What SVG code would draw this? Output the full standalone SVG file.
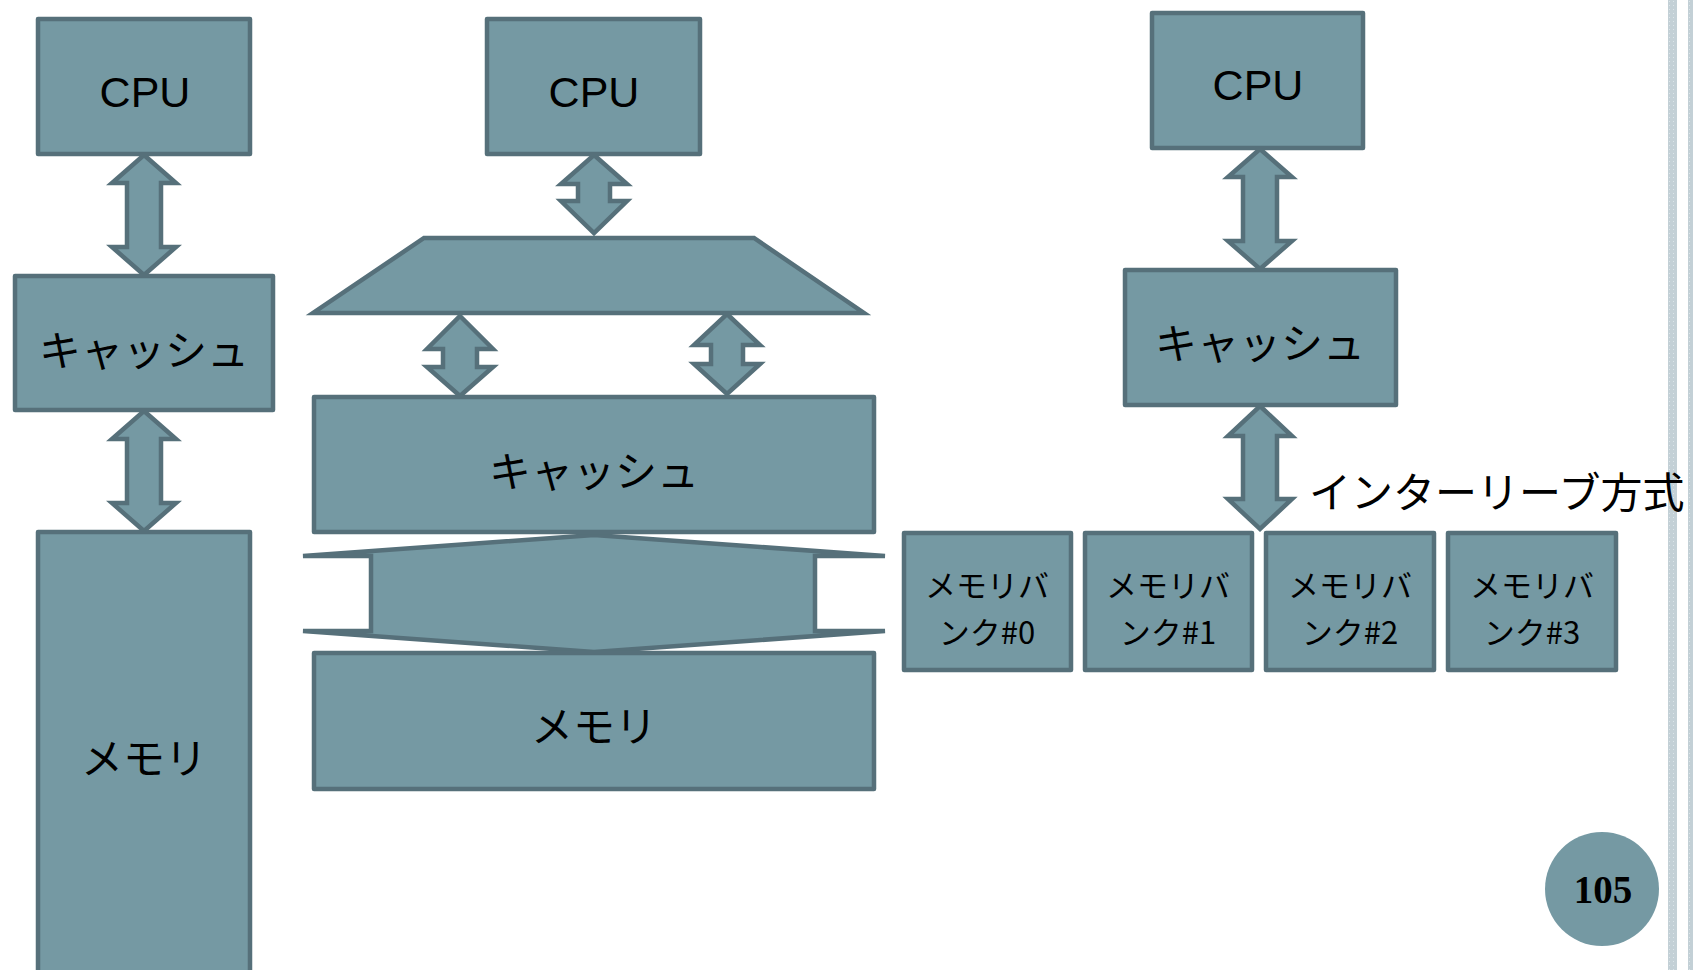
<svg xmlns="http://www.w3.org/2000/svg" width="1693" height="970" viewBox="0 0 1693 970">
<style>
.box{fill:#7599a3;stroke:#56707a;stroke-width:4.5;stroke-linejoin:round}
.arr{fill:#7599a3;stroke:#56707a;stroke-width:4.5;stroke-linejoin:miter;stroke-miterlimit:10}
.cpu{font-family:"Liberation Sans",Arial,sans-serif;font-size:43px;fill:#000;text-anchor:middle}
.jp{font-family:"Noto Sans CJK JP",sans-serif;fill:#000;text-anchor:middle;dominant-baseline:central}
.big{font-size:42px}
.sm{font-size:31px}
</style>
<defs>
<pattern id="dots" width="4" height="4" patternUnits="userSpaceOnUse">
<rect width="4" height="4" fill="#c3d0d6"/>
<rect x="1" y="1" width="1" height="1" fill="#dce5e9"/>
</pattern>
</defs>
<rect width="1693" height="970" fill="#ffffff"/>
<g id="sidebar">
<rect x="1668" y="0" width="9" height="970" fill="url(#dots)"/>
<rect x="1688" y="0" width="5" height="970" fill="url(#dots)"/>
</g>
<g id="connectors">
<polygon class="arr" points="144,155 176,183 161,183 161,247 176,247 144,275 112,247 127,247 127,183 112,183"/>
<polygon class="arr" points="144,411 176,439 161,439 161,503 176,503 144,531 112,503 127,503 127,439 112,439"/>
<polygon class="arr" points="594,155 627,184 610,184 610,201 627,201 594,233 561,201 578,201 578,184 561,184"/>
<polygon class="arr" points="460,316 493,349 477,349 477,367 493,367 460,396 427,367 443,367 443,349 427,349"/>
<polygon class="arr" points="727,314 760,345 743,345 743,364 760,364 727,394 694,364 711,364 711,345 694,345"/>
<polygon class="arr" points="594,535 885,556 815,556 815,631 885,631 594,652 303,631 371,631 371,556 303,556"/>
<polygon class="arr" points="1260,149 1292,177 1277,177 1277,241 1292,241 1260,269 1228,241 1243,241 1243,177 1228,177"/>
<polygon class="arr" points="1260,406 1292,436 1277,436 1277,499 1292,499 1260,529 1228,499 1243,499 1243,436 1228,436"/>
</g>
<g id="cpu1"><rect class="box" x="38" y="19" width="212" height="135"/><text class="cpu" x="145" y="107">CPU</text></g>
<g id="cache1"><rect class="box" x="15" y="276" width="258" height="134"/><text class="jp big" x="144" y="347">キャッシュ</text></g>
<g id="memory1"><rect class="box" x="38" y="532" width="212" height="460"/><text class="jp big" x="144" y="755">メモリ</text></g>
<g id="cpu2"><rect class="box" x="487" y="19" width="213" height="135"/><text class="cpu" x="594" y="107">CPU</text></g>
<g id="bus"><polygon class="arr" points="424,238 754,238 864,313 313,313"/></g>
<g id="cache2"><rect class="box" x="314" y="397" width="560" height="135"/><text class="jp big" x="594" y="468">キャッシュ</text></g>
<g id="memory2"><rect class="box" x="314" y="653" width="560" height="136"/><text class="jp big" x="594" y="723">メモリ</text></g>
<g id="cpu3"><rect class="box" x="1152" y="13" width="211" height="135"/><text class="cpu" x="1258" y="100">CPU</text></g>
<g id="cache3"><rect class="box" x="1125" y="270" width="271" height="135"/><text class="jp big" x="1260" y="340">キャッシュ</text></g>
<g id="bank0"><rect class="box" x="904" y="533" width="167" height="137"/><text class="jp sm" x="987" y="583">メモリバ</text><text class="jp sm" x="987" y="630">ンク#0</text></g>
<g id="bank1"><rect class="box" x="1085" y="533" width="167" height="137"/><text class="jp sm" x="1168" y="583">メモリバ</text><text class="jp sm" x="1168" y="630">ンク#1</text></g>
<g id="bank2"><rect class="box" x="1266" y="533" width="168" height="137"/><text class="jp sm" x="1350" y="583">メモリバ</text><text class="jp sm" x="1350" y="630">ンク#2</text></g>
<g id="bank3"><rect class="box" x="1448" y="533" width="168" height="137"/><text class="jp sm" x="1532" y="583">メモリバ</text><text class="jp sm" x="1532" y="630">ンク#3</text></g>
<g id="label"><text x="1309" y="489" style="font-family:'Noto Sans CJK JP',sans-serif;font-size:42px;fill:#000;dominant-baseline:central">インターリーブ方式</text></g>
<g id="page"><circle cx="1602" cy="889" r="57" fill="#7599a3"/><text x="1603" y="903" style="font-family:'Liberation Serif',serif;font-weight:bold;font-size:39px;fill:#000;text-anchor:middle">105</text></g>
</svg>
